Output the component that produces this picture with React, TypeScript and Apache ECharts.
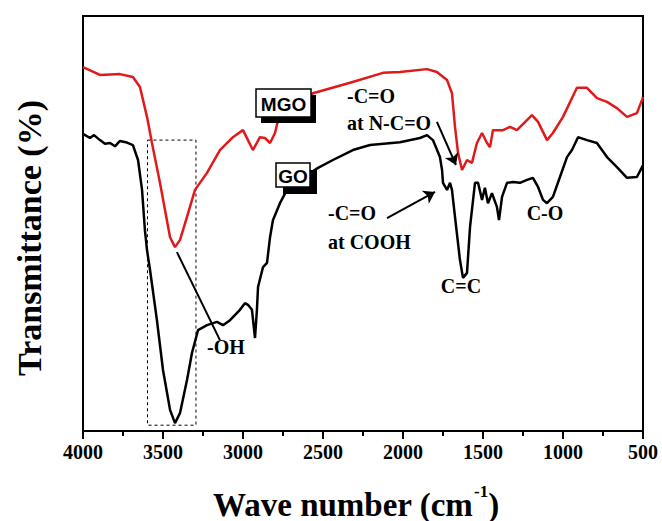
import React, { useEffect, useRef } from "react";
import * as echarts from "echarts";

// GO spectrum (black)
const goWave = [4000,3956,3931,3894,3863,3831,3800,3769,3725,3688,3656,3631,3613,3600,3581,3538,3500,3456,3425,3394,3350,3319,3281,3225,3163,3125,3081,3019,2988,2969,2944,2925,2913,2906,2875,2850,2831,2813,2769,2725,2644,2531,2438,2313,2206,2019,1894,1850,1813,1769,1756,1750,1725,1706,1694,1675,1644,1625,1600,1581,1550,1531,1506,1488,1469,1444,1413,1400,1381,1350,1313,1269,1225,1188,1156,1125,1100,1063,1019,975,944,906,850,788,725,663,600,538,506,500];
const goT = [71.6,70.6,71.3,70.1,69.2,69.4,68.6,69.9,69.5,68.9,65.3,58.1,48.4,43.6,38.8,26.7,14.7,5.1,1.9,4.3,12.3,18.8,24.3,25.5,26.3,25.5,26.7,29.2,30.8,30.4,29.2,22.4,29.2,34.7,39.5,40.5,46.7,50.8,54.9,58.1,60.5,63.4,65.3,67.7,68.9,69.6,70.6,71.3,70.1,66.0,62.9,59.8,58.1,59.8,58.1,51.6,41.2,36.9,38.1,49.2,59.8,59.8,55.7,58.6,54.9,57.3,54.0,50.8,56.4,59.8,60.0,59.8,60.5,61.0,58.8,55.7,54.9,56.4,61.2,66.0,67.7,70.8,70.1,69.4,66.0,63.6,61.0,61.2,63.6,64.0];

// MGO spectrum (red)
const mgoWave = [4000,3894,3769,3688,3644,3600,3569,3519,3456,3425,3394,3350,3300,3225,3144,3063,3000,2969,2938,2894,2863,2831,2800,2781,2675,2563,2331,2125,2019,1850,1788,1725,1694,1675,1656,1631,1600,1569,1538,1506,1475,1456,1438,1375,1331,1288,1194,1156,1100,1063,1000,913,850,788,725,663,600,538,506,500];
const mgoT = [87.7,85.8,86.0,85.3,82.9,75.7,69.4,59.8,46.7,44.3,46.0,51.6,58.1,62.2,67.7,70.8,72.5,70.1,67.7,70.8,70.6,69.4,71.8,74.9,77.6,81.4,83.9,86.3,86.5,87.2,86.5,84.6,81.4,73.3,67.0,62.9,65.3,64.6,69.4,71.8,69.4,68.4,72.5,72.5,73.3,72.5,76.1,74.5,70.1,71.8,75.7,82.7,82.7,80.2,79.3,77.8,75.7,76.6,79.8,80.5];

const xTicks = { min: 500, max: 4000, interval: 500 };

// annotation anchors in data coordinates [wavenumber, transmittance]
const ohLine = [[3413, 43.1], [3144, 21.9]];
const ncoArrow = [[1788, 74.5], [1669, 64.1]];
const coohArrow = [[2100, 51.3], [1800, 57.6]];
const dashedBox = [[3597, 70.1], [3294, 1.4]];

const SERIF = "'Liberation Serif', 'Times New Roman', serif";
const SANS = "'Liberation Sans', Arial, sans-serif";

export default function App() {
  const ref = useRef<HTMLDivElement>(null);
  useEffect(() => {
    const chart = echarts.init(ref.current!, null, { renderer: "svg" });
    const txt = (x: number, y: number, text: string, align: string = "left", size = 20) => ({
      type: "text",
      x,
      y,
      z: 100,
      style: {
        text,
        fill: "#000",
        font: `bold ${size}px ${SERIF}`,
        textAlign: align,
        textVerticalAlign: "middle",
      },
    });
    const shadowBox = (x: number, y: number, w: number, h: number, label: string, dx: number, dy: number) => [
      { type: "rect", z: 100, shape: { x: x + dx, y: y + dy, width: w, height: h }, style: { fill: "#000" } },
      { type: "rect", z: 101, shape: { x, y, width: w, height: h }, style: { fill: "#fff", stroke: "#000", lineWidth: 1.5 } },
      {
        type: "text",
        z: 102,
        x: x + w / 2,
        y: y + h / 2 + 1,
        style: { text: label, fill: "#000", font: `bold 19px ${SANS}`, textAlign: "center", textVerticalAlign: "middle" },
      },
    ];
    chart.setOption({
      animation: false,
      backgroundColor: "#fff",
      grid: { left: 83, right: 19, top: 16, bottom: 90, show: true, borderColor: "#000", borderWidth: 2 },
      xAxis: {
        type: "value",
        inverse: true,
        min: xTicks.min,
        max: xTicks.max,
        interval: xTicks.interval,
        axisLine: { show: true, lineStyle: { color: "#000", width: 2 } },
        axisTick: { show: true, inside: false, length: 8, lineStyle: { color: "#000", width: 2 } },
        minorTick: { show: true, splitNumber: 2, length: 5, lineStyle: { color: "#000", width: 2 } },
        splitLine: { show: false },
        minorSplitLine: { show: false },
        axisLabel: {
          color: "#000",
          fontFamily: SERIF,
          fontWeight: "bold",
          fontSize: 20,
          margin: 11,
          formatter: (v: number) => String(v),
        },
      },
      yAxis: {
        type: "value",
        min: 0,
        max: 100,
        show: false,
        splitLine: { show: false },
      },
      series: [
        {
          name: "GO",
          type: "line",
          data: goWave.map((w, i) => [w, goT[i]]),
          symbol: "none",
          lineStyle: { color: "#000", width: 2.5 },
          silent: true,
          z: 3,
          markArea: {
            silent: true,
            itemStyle: { color: "rgba(0,0,0,0)", borderColor: "#000", borderWidth: 1, borderType: [3, 3] },
            data: [[{ coord: dashedBox[0] }, { coord: dashedBox[1] }]],
          },
          markLine: {
            silent: true,
            symbol: ["none", "arrow"],
            symbolSize: 11,
            label: { show: false },
            lineStyle: { color: "#000", width: 2, type: "solid" },
            data: [
              [{ coord: ohLine[0], symbol: "none" }, { coord: ohLine[1], symbol: "none" }],
              [{ coord: ncoArrow[0] }, { coord: ncoArrow[1] }],
              [{ coord: coohArrow[0] }, { coord: coohArrow[1] }],
            ],
          },
        },
        {
          name: "MGO",
          type: "line",
          data: mgoWave.map((w, i) => [w, mgoT[i]]),
          symbol: "none",
          lineStyle: { color: "#e0191b", width: 2.5 },
          silent: true,
          z: 4,
        },
      ],
      graphic: [
        ...shadowBox(256, 89, 55, 28, "MGO", 5, 6),
        ...shadowBox(276, 163, 34, 24, "GO", 7, 7),
        txt(347, 96, "-C=O"),
        txt(347, 123, "at N-C=O"),
        txt(328, 213, "-C=O"),
        txt(328, 242, "at COOH"),
        txt(461, 286, "C=C", "center"),
        txt(545, 213, "C-O", "center"),
        txt(207, 347, "-OH"),
        {
          type: "text",
          x: 29,
          y: 238,
          rotation: Math.PI / 2,
          style: {
            text: "Transmittance (%)",
            fill: "#000",
            font: `bold 34px ${SERIF}`,
            textAlign: "center",
            textVerticalAlign: "middle",
          },
        },
        {
          type: "text",
          x: 356,
          y: 502,
          style: {
            text: "{a|Wave number (cm}{s|-1}{a|)}",
            fill: "#000",
            textAlign: "center",
            textVerticalAlign: "middle",
            rich: {
              a: { font: `bold 33px ${SERIF}`, fill: "#000", lineHeight: 38, verticalAlign: "bottom" },
              s: { font: `bold 17px ${SERIF}`, fill: "#000", lineHeight: 38, verticalAlign: "top", padding: [0, 0, 0, 1] },
            },
          },
        },
      ],
    });
    return () => chart.dispose();
  }, []);
  return <div ref={ref} style={{ position: "absolute", left: 0, top: 0, width: 662, height: 521 }} />;
}
